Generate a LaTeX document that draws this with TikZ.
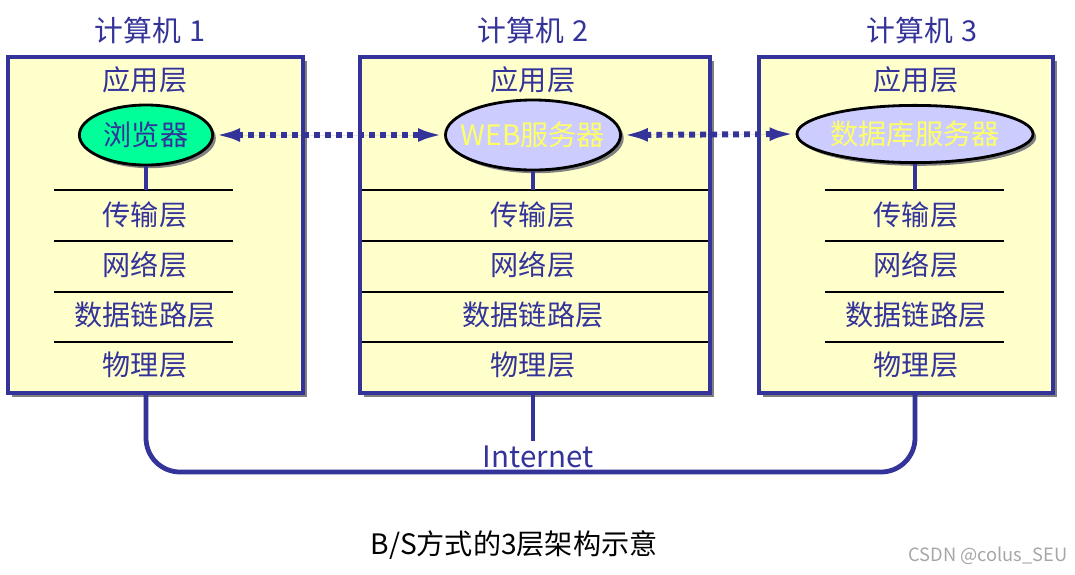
\documentclass[tikz,border=0pt]{standalone}
\usepackage{fontspec}
\setmainfont{Noto Sans CJK SC}
\usepackage{tikz}
\usetikzlibrary{arrows.meta,positioning,shapes.geometric,shadows}
\usepackage{xcolor}
\definecolor{navy}{HTML}{333399}
\definecolor{paleyellow}{HTML}{FFFFCC}
\definecolor{mint}{HTML}{00FF99}
\definecolor{lilac}{HTML}{CCCCFF}
\definecolor{softyellow}{HTML}{FFFF66}
\tikzset{
  hostbox/.style={draw=navy, line width=3pt, fill=paleyellow, inner sep=0pt,
    drop shadow={shadow xshift=0.11cm, shadow yshift=-0.11cm, fill=gray, opacity=1}},
  hosttitle/.style={text=navy, font=\fontsize{20.5}{24}\selectfont},
  layer/.style={text=navy, font=\fontsize{20}{24}\selectfont},
  appnode/.style={ellipse, draw=black, line width=2pt, inner sep=0pt,
    drop shadow={shadow xshift=0.08cm, shadow yshift=-0.08cm, fill=gray, opacity=1}},
  apptext/.style={font=\fontsize{20}{24}\selectfont},
  sepline/.style={draw=black, line width=1.3pt},
  stem/.style={draw=navy, line width=2.6pt},
  dotlink/.style={<->, >={Latex[length=6.5mm,width=3.4mm]}, draw=navy, fill=navy,
    line width=4.2pt, dash pattern=on 4.2pt off 3.6pt},
  netline/.style={draw=navy, line width=3.4pt, rounded corners=0.85cm}
}

\begin{document}
\begin{tikzpicture}[x=0.025cm,y=-0.025cm]
  \useasboundingbox (0,0) rectangle (1075,574);
  % Hosts
  \node (pc1) [hostbox, minimum width=7.375cm, minimum height=8.4cm] at (155.5,225) {};
  \node (pc2) [hostbox, minimum width=8.75cm, minimum height=8.4cm] at (535,225) {};
  \node (pc3) [hostbox, minimum width=7.35cm, minimum height=8.4cm] at (906,225) {};
  \node (t1) [hosttitle] at (150,30) {计算机\hspace{0.3em}1};
  \node (t2) [hosttitle] at (533,30) {计算机\hspace{0.3em}2};
  \node (t3) [hosttitle] at (922,30) {计算机\hspace{0.3em}3};
  % Computer 1
  \node (al1) [layer] at (145,80) {应用层};
  \node (app1) [appnode, fill=mint, minimum width=3.33cm, minimum height=1.5cm,
    label={[apptext, text=navy]center:浏览器}] at (146,135) {};
  \node (tl1) [layer] at (145,215) {传输层};
  \node (nl1) [layer] at (145,265) {网络层};
  \node (dl1) [layer] at (145,315) {数据链路层};
  \node (pl1) [layer] at (145,365) {物理层};
  \draw[sepline] (54,190) -- (233,190);
  \draw[sepline] (54,241) -- (233,241);
  \draw[sepline] (54,292) -- (233,292);
  \draw[sepline] (54,342) -- (233,342);
  \draw[stem] (app1.south) -- (app1 |- 0,190);
  % Computer 2
  \node (al2) [layer] at (533,80) {应用层};
  \node (app2) [appnode, fill=lilac, minimum width=4.375cm, minimum height=1.75cm,
    label={[apptext, text=softyellow]center:WEB服务器}] at (533,135) {};
  \node (tl2) [layer] at (533,215) {传输层};
  \node (nl2) [layer] at (533,265) {网络层};
  \node (dl2) [layer] at (533,315) {数据链路层};
  \node (pl2) [layer] at (533,365) {物理层};
  \draw[sepline] (362,190) -- (708,190);
  \draw[sepline] (362,241) -- (708,241);
  \draw[sepline] (362,292) -- (708,292);
  \draw[sepline] (362,342) -- (708,342);
  \draw[stem] (app2.south) -- (app2 |- 0,190);
  % Computer 3
  \node (al3) [layer] at (916,80) {应用层};
  \node (app3) [appnode, fill=lilac, minimum width=5.9cm, minimum height=1.43cm,
    label={[apptext, text=softyellow]center:数据库服务器}] at (915,134) {};
  \node (tl3) [layer] at (916,215) {传输层};
  \node (nl3) [layer] at (916,265) {网络层};
  \node (dl3) [layer] at (916,315) {数据链路层};
  \node (pl3) [layer] at (916,365) {物理层};
  \draw[sepline] (825,190) -- (1004,190);
  \draw[sepline] (825,241) -- (1004,241);
  \draw[sepline] (825,292) -- (1004,292);
  \draw[sepline] (825,342) -- (1004,342);
  \draw[stem] (app3.south) -- (app3 |- 0,190);
  % Links between applications
  \draw[dotlink] (app1.east) -- (app2.west);
  \draw[dotlink] (app2.east) -- (app3.west);
  % Internet
  \node (net) [layer, font=\fontsize{21}{24}\selectfont] at (538,457) {Internet};
  \coordinate (bus) at (530,472);
  \draw[netline] (app1 |- pc1.south) -- (app1 |- bus) -- (app3 |- bus) -- (app3 |- pc3.south);
  \draw[netline] (app2 |- pc2.south) -- (app2 |- net.north);
  % Caption
  \node (caption) [font=\fontsize{20}{24}\selectfont] at (514,545) {B/S方式的3层架构示意};
  \node (wm) [text=gray!70, font=\fontsize{13}{16}\selectfont] at (988,556) {CSDN @colus\_SEU};
\end{tikzpicture}
\end{document}
